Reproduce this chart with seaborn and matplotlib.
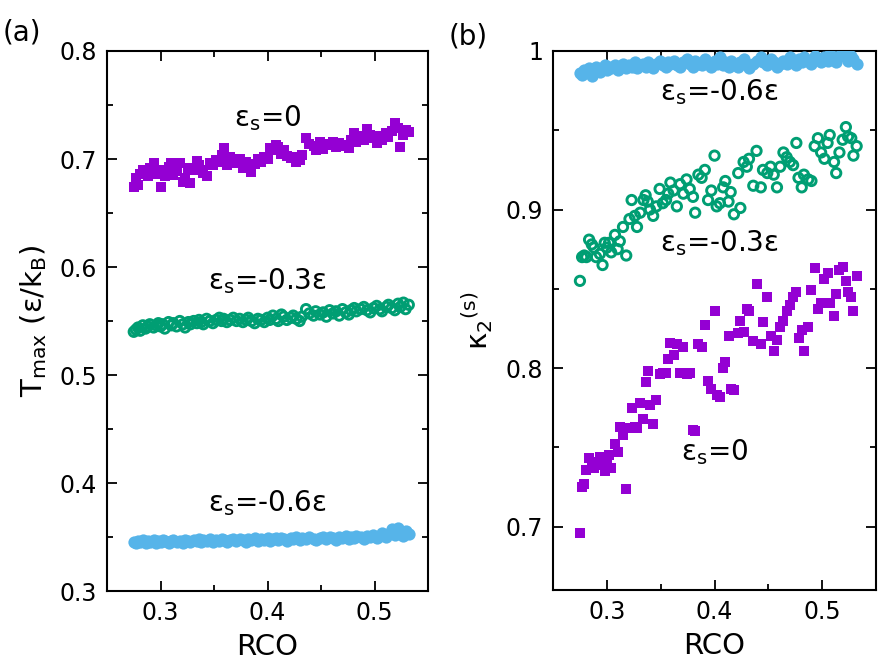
import numpy as np
import pandas as pd
import matplotlib
matplotlib.use("Agg")
import matplotlib.pyplot as plt
import seaborn as sns
from matplotlib.ticker import MultipleLocator, FixedLocator, FixedFormatter

sns.set_style("ticks")
plt.rcParams["font.family"] = ["DejaVu Sans"]
plt.rcParams["mathtext.fontset"] = "dejavusans"
for key in ["text.color", "axes.labelcolor", "xtick.color", "ytick.color",
            "axes.edgecolor"]:
    plt.rcParams[key] = "black"

# shared contact-order values (x)
rco = [0.275, 0.277, 0.279, 0.281, 0.2835, 0.286, 0.288, 0.290, 0.2935, 0.296,
       0.298, 0.300, 0.302, 0.304, 0.3075, 0.310, 0.312, 0.315, 0.318, 0.321,
       0.323, 0.326, 0.328, 0.331, 0.334, 0.336, 0.338, 0.340, 0.343, 0.346,
       0.349, 0.352, 0.355, 0.357, 0.359, 0.362, 0.365, 0.368, 0.371, 0.374,
       0.377, 0.380, 0.382, 0.385, 0.388, 0.391, 0.394, 0.397, 0.400, 0.402,
       0.405, 0.408, 0.410, 0.413, 0.415, 0.418, 0.422, 0.424, 0.427, 0.430,
       0.432, 0.436, 0.439, 0.443, 0.445, 0.449, 0.452, 0.455, 0.458, 0.461,
       0.464, 0.467, 0.470, 0.473, 0.476, 0.478, 0.481, 0.483, 0.487, 0.490,
       0.493, 0.496, 0.499, 0.502, 0.505, 0.507, 0.511, 0.513, 0.516, 0.519,
       0.522, 0.524, 0.527, 0.529, 0.532]

# panel (a): T_max
tmax_eps0 = [0.674, 0.682, 0.676, 0.686, 0.690, 0.688, 0.684, 0.692, 0.696, 0.688,
             0.686, 0.674, 0.690, 0.684, 0.693, 0.696, 0.685, 0.689, 0.696, 0.679,
             0.682, 0.692, 0.678, 0.690, 0.698, 0.694, 0.690, 0.687, 0.684, 0.696,
             0.694, 0.699, 0.697, 0.704, 0.710, 0.694, 0.702, 0.698, 0.696, 0.700,
             0.692, 0.697, 0.694, 0.688, 0.695, 0.700, 0.697, 0.702, 0.700, 0.710,
             0.708, 0.713, 0.711, 0.705, 0.708, 0.703, 0.701, 0.702, 0.697, 0.699,
             0.704, 0.719, 0.714, 0.712, 0.708, 0.716, 0.709, 0.714, 0.713, 0.716,
             0.711, 0.715, 0.713, 0.712, 0.710, 0.718, 0.724, 0.716, 0.721, 0.718,
             0.728, 0.722, 0.719, 0.715, 0.721, 0.718, 0.724, 0.720, 0.726, 0.733,
             0.729, 0.711, 0.722, 0.727, 0.725]
tmax_eps03 = [0.540, 0.542, 0.544, 0.541, 0.546, 0.543, 0.545, 0.547, 0.544, 0.546,
              0.548, 0.545, 0.547, 0.543, 0.549, 0.546, 0.548, 0.545, 0.550, 0.547,
              0.544, 0.549, 0.547, 0.550, 0.548, 0.551, 0.549, 0.547, 0.552, 0.550,
              0.548, 0.551, 0.553, 0.550, 0.552, 0.549, 0.551, 0.553, 0.550, 0.552,
              0.549, 0.551, 0.553, 0.550, 0.548, 0.552, 0.551, 0.549, 0.553, 0.551,
              0.555, 0.552, 0.550, 0.556, 0.554, 0.551, 0.553, 0.555, 0.552, 0.550,
              0.554, 0.561, 0.557, 0.555, 0.559, 0.556, 0.558, 0.554, 0.560, 0.557,
              0.559, 0.555, 0.561, 0.558, 0.556, 0.560, 0.562, 0.559, 0.561, 0.563,
              0.560, 0.558, 0.562, 0.564, 0.561, 0.559, 0.563, 0.565, 0.562, 0.560,
              0.566, 0.563, 0.567, 0.561, 0.565]
tmax_eps06 = [0.345, 0.344, 0.346, 0.345, 0.347, 0.344, 0.346, 0.345, 0.347, 0.344,
              0.346, 0.345, 0.347, 0.346, 0.344, 0.346, 0.347, 0.345, 0.346, 0.344,
              0.347, 0.346, 0.345, 0.347, 0.346, 0.348, 0.345, 0.347, 0.346, 0.348,
              0.345, 0.347, 0.346, 0.348, 0.347, 0.345, 0.347, 0.348, 0.346, 0.348,
              0.347, 0.345, 0.348, 0.347, 0.349, 0.346, 0.348, 0.347, 0.349, 0.346,
              0.348, 0.349, 0.347, 0.349, 0.348, 0.346, 0.349, 0.348, 0.350, 0.347,
              0.349, 0.348, 0.350, 0.348, 0.347, 0.349, 0.350, 0.348, 0.350, 0.349,
              0.347, 0.350, 0.349, 0.351, 0.348, 0.350, 0.349, 0.351, 0.350, 0.348,
              0.351, 0.350, 0.352, 0.349, 0.351, 0.354, 0.350, 0.353, 0.357, 0.352,
              0.358, 0.355, 0.351, 0.356, 0.353]

# panel (b): kappa_2^(s)
kap_eps0 = [0.696, 0.725, 0.727, 0.736, 0.743, 0.740, 0.737, 0.741, 0.744, 0.739,
            0.735, 0.742, 0.745, 0.737, 0.752, 0.747, 0.763, 0.758, 0.724, 0.762,
            0.775, 0.763, 0.762, 0.778, 0.768, 0.791, 0.798, 0.777, 0.765, 0.780,
            0.796, 0.797, 0.797, 0.806, 0.816, 0.808, 0.815, 0.797, 0.813, 0.796,
            0.797, 0.761, 0.760, 0.815, 0.813, 0.827, 0.792, 0.787, 0.836, 0.783,
            0.782, 0.800, 0.804, 0.820, 0.787, 0.786, 0.822, 0.830, 0.823, 0.837,
            0.836, 0.817, 0.853, 0.815, 0.829, 0.845, 0.820, 0.811, 0.818, 0.826,
            0.830, 0.836, 0.840, 0.845, 0.848, 0.819, 0.824, 0.811, 0.826, 0.849,
            0.863, 0.837, 0.841, 0.856, 0.860, 0.841, 0.833, 0.847, 0.862, 0.864,
            0.855, 0.848, 0.845, 0.836, 0.858]
kap_eps03 = [0.855, 0.870, 0.871, 0.870, 0.881, 0.878, 0.876, 0.870, 0.872, 0.865,
             0.879, 0.876, 0.879, 0.873, 0.884, 0.875, 0.880, 0.889, 0.871, 0.894,
             0.906, 0.896, 0.889, 0.898, 0.906, 0.909, 0.905, 0.900, 0.896, 0.902,
             0.913, 0.904, 0.906, 0.910, 0.917, 0.912, 0.902, 0.916, 0.910, 0.919,
             0.913, 0.908, 0.898, 0.922, 0.920, 0.925, 0.906, 0.912, 0.934, 0.902,
             0.904, 0.914, 0.918, 0.905, 0.911, 0.897, 0.923, 0.901, 0.930, 0.927,
             0.932, 0.915, 0.937, 0.914, 0.925, 0.923, 0.927, 0.922, 0.914, 0.927,
             0.936, 0.933, 0.930, 0.928, 0.942, 0.920, 0.914, 0.922, 0.919, 0.918,
             0.940, 0.945, 0.936, 0.932, 0.942, 0.947, 0.930, 0.923, 0.936, 0.944,
             0.952, 0.946, 0.945, 0.934, 0.940]
kap_eps06 = [0.986, 0.985, 0.988, 0.987, 0.989, 0.984, 0.988, 0.990, 0.987, 0.989,
             0.991, 0.988, 0.990, 0.989, 0.991, 0.988, 0.990, 0.992, 0.989, 0.991,
             0.990, 0.993, 0.989, 0.991, 0.992, 0.990, 0.993, 0.991, 0.989, 0.992,
             0.994, 0.991, 0.990, 0.993, 0.992, 0.994, 0.991, 0.990, 0.993, 0.995,
             0.992, 0.990, 0.994, 0.992, 0.991, 0.995, 0.993, 0.990, 0.994, 0.992,
             0.996, 0.991, 0.993, 0.990, 0.994, 0.992, 0.990, 0.993, 0.995, 0.991,
             0.989, 0.992, 0.994, 0.996, 0.993, 0.991, 0.995, 0.993, 0.990, 0.992,
             0.994, 0.992, 0.996, 0.993, 0.991, 0.995, 0.993, 0.996, 0.994, 0.992,
             0.997, 0.995, 0.993, 0.996, 0.994, 0.998, 0.995, 0.993, 0.997, 0.999,
             0.996, 0.994, 0.997, 0.995, 0.992]

labels_a = [r"ε$_{\rm s}$=0", r"ε$_{\rm s}$=-0.3ε", r"ε$_{\rm s}$=-0.6ε"]
xticks = [0.3, 0.4, 0.5]
xticklabels = ["0.3", "0.4", "0.5"]
yticks_a = [0.3, 0.4, 0.5, 0.6, 0.7, 0.8]
yticklabels_a = ["0.3", "0.4", "0.5", "0.6", "0.7", "0.8"]
yticks_b = [0.7, 0.8, 0.9, 1.0]
yticklabels_b = ["0.7", "0.8", "0.9", "1"]

PURPLE = "#9400D3"
GREEN = "#009E73"
BLUE = "#56B4E9"

fig = plt.figure(figsize=(8.94, 6.71), dpi=100)
axa = fig.add_axes([0.1197, 0.1192, 0.3591, 0.8048])
axb = fig.add_axes([0.6186, 0.1207, 0.3613, 0.8033])


def draw(ax, y0, y3, y6):
    sns.scatterplot(x=rco, y=y0, ax=ax, marker="s", color=PURPLE, s=55,
                    linewidth=0, zorder=3)
    sns.scatterplot(x=rco, y=y3, ax=ax, marker="o", color=GREEN, s=45,
                    linewidth=2.1, zorder=3)
    sns.scatterplot(x=rco, y=y6, ax=ax, marker="o", color=BLUE, s=78,
                    linewidth=0, zorder=3)
    coll = ax.collections[1]
    coll.set_facecolor("none")
    coll.set_edgecolor(GREEN)
    coll.set_linewidth(2.1)


draw(axa, tmax_eps0, tmax_eps03, tmax_eps06)
draw(axb, kap_eps0, kap_eps03, kap_eps06)

for ax in (axa, axb):
    ax.set_xlim(0.25, 0.55)
    ax.xaxis.set_major_locator(FixedLocator(xticks))
    ax.xaxis.set_major_formatter(FixedFormatter(xticklabels))
    ax.xaxis.set_minor_locator(MultipleLocator(0.05))
    ax.yaxis.set_minor_locator(MultipleLocator(0.05))
    ax.tick_params(which="both", direction="in", top=True, right=True,
                   width=1.3, labelsize=17, colors="black")
    ax.tick_params(which="major", length=7.5, pad=7)
    ax.tick_params(which="minor", length=4.5)
    for sp in ax.spines.values():
        sp.set_linewidth(1.5)
        sp.set_color("black")
        sp.set_visible(True)
    ax.set_xlabel("RCO", fontsize=21, labelpad=6, color="black")

axa.set_ylim(0.3, 0.8)
axa.yaxis.set_major_locator(FixedLocator(yticks_a))
axa.yaxis.set_major_formatter(FixedFormatter(yticklabels_a))
axa.set_ylabel(r"T$_{\rm max}$ (ε/k$_{\rm B}$)", fontsize=21, labelpad=8,
               color="black")

axb.set_ylim(0.66, 1.0)
axb.yaxis.set_major_locator(FixedLocator(yticks_b))
axb.yaxis.set_major_formatter(FixedFormatter(yticklabels_b))
axb.set_ylabel(r"κ$_2$$^{\rm (s)}$", fontsize=21, labelpad=8, color="black")

kw = dict(fontsize=20, ha="center", va="center", color="black")
axa.text(0.40, 0.738, labels_a[0], **kw)
axa.text(0.40, 0.587, labels_a[1], **kw)
axa.text(0.40, 0.381, labels_a[2], **kw)
axb.text(0.404, 0.974, labels_a[2], **kw)
axb.text(0.404, 0.879, labels_a[1], **kw)
axb.text(0.40, 0.747, labels_a[0], **kw)

fig.text(22 / 894, 1 - 32 / 671, "(a)", fontsize=20, ha="center", va="center",
         color="black")
fig.text(468 / 894, 1 - 36 / 671, "(b)", fontsize=20, ha="center", va="center",
         color="black")

fig.savefig("out.png", dpi=100)
